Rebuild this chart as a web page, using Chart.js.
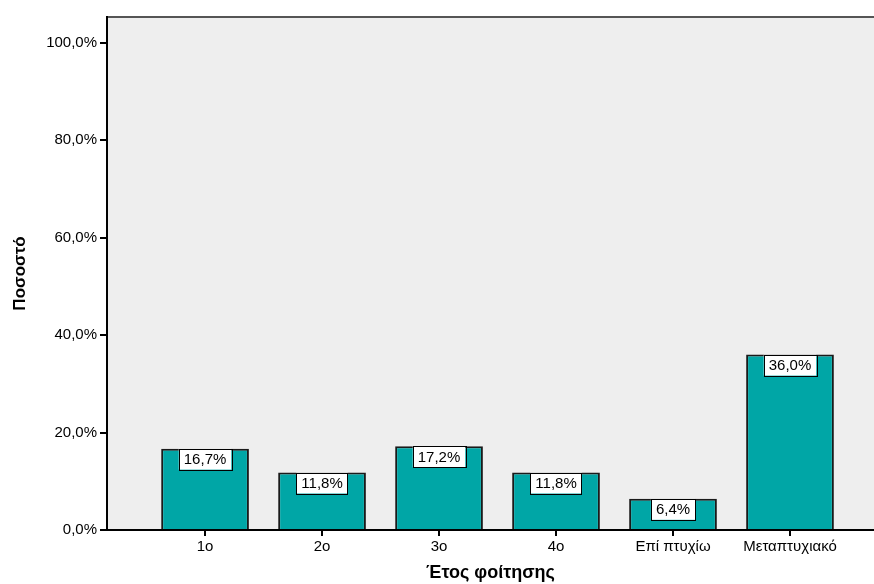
<!DOCTYPE html>
<html lang="el">
<head>
    <meta charset="UTF-8">
    <title>Έτος φοίτησης</title>
    <script src="https://cdn.jsdelivr.net/npm/chart.js"></script>
    <style>
        html, body {
            margin: 0;
            background: #fff;
        }
        canvas {
            display: block;
        }
    </style>
</head>
<body>
    <canvas id="yearChart" width="874" height="584"></canvas>

    <script>
        const categories = ['1o', '2o', '3o', '4o', 'Επί πτυχίω', 'Μεταπτυχιακό'];
        const percentages = [16.7, 11.8, 17.2, 11.8, 6.4, 36.0];
        const yTicks = [0, 20, 40, 60, 80, 100];

        const fontFamily = '"Liberation Sans", Arial, sans-serif';
        const pct = v => v.toFixed(1).replace('.', ',') + '%';

        // plot background + top frame line
        const plotFrame = {
            id: 'plotFrame',
            beforeDraw(chart) {
                const { ctx, chartArea } = chart;
                ctx.save();
                ctx.fillStyle = '#eeeeee';
                ctx.fillRect(chartArea.left, chartArea.top, chart.width - chartArea.left, chartArea.bottom - chartArea.top);
                ctx.strokeStyle = '#555555';
                ctx.lineWidth = 2;
                ctx.beginPath();
                ctx.moveTo(chartArea.left, chartArea.top);
                ctx.lineTo(chart.width, chartArea.top);
                ctx.stroke();
                ctx.restore();
            }
        };

        // white boxed value labels at the top of each bar
        const valueBoxes = {
            id: 'valueBoxes',
            afterDatasetsDraw(chart) {
                const { ctx } = chart;
                const meta = chart.getDatasetMeta(0);
                ctx.save();
                ctx.font = '15px ' + fontFamily;
                ctx.textAlign = 'center';
                ctx.textBaseline = 'middle';
                meta.data.forEach((bar, i) => {
                    const text = pct(percentages[i]);
                    const w = ctx.measureText(text).width + 10;
                    const h = 21;
                    const x = bar.x - w / 2;
                    const y = bar.y;
                    ctx.fillStyle = '#ffffff';
                    ctx.fillRect(x, y, w, h);
                    ctx.strokeStyle = '#000000';
                    ctx.lineWidth = 1;
                    ctx.strokeRect(Math.round(x) + 0.5, Math.round(y) + 0.5, Math.round(w), h);
                    ctx.fillStyle = '#000000';
                    ctx.fillText(text, bar.x, y + h / 2 + 1);
                });
                ctx.restore();
            }
        };

        const ctx = document.getElementById('yearChart').getContext('2d');
        new Chart(ctx, {
            type: 'bar',
            data: {
                datasets: [{
                    data: percentages.map((v, i) => ({ x: i, y: v })),
                    backgroundColor: '#00a6a6',
                    borderColor: '#1a1a1a',
                    borderWidth: 2,
                    categoryPercentage: 1,
                    barPercentage: 0.75
                }]
            },
            options: {
                responsive: false,
                animation: false,
                layout: { padding: { top: 17, right: 0, left: 0, bottom: 0 } },
                plugins: {
                    legend: { display: false },
                    tooltip: { enabled: false }
                },
                scales: {
                    x: {
                        type: 'linear',
                        offset: false,
                        min: -0.838,
                        max: 5.718,
                        afterBuildTicks: scale => {
                            scale.ticks = categories.map((c, i) => ({ value: i }));
                        },
                        afterFit: scale => { scale.height = 54; },
                        ticks: {
                            callback: v => categories[v],
                            color: '#000',
                            font: { family: fontFamily, size: 15 },
                            padding: 2,
                            maxRotation: 0,
                            autoSkip: false
                        },
                        grid: {
                            offset: false,
                            drawOnChartArea: false,
                            drawTicks: true,
                            tickLength: 6,
                            color: '#000',
                            lineWidth: 2
                        },
                        border: { color: '#000', width: 2 },
                        title: {
                            display: true,
                            text: 'Έτος φοίτησης',
                            color: '#000',
                            font: { family: fontFamily, size: 18, weight: 'bold' },
                            padding: { top: 5, bottom: 0 }
                        }
                    },
                    y: {
                        min: 0,
                        max: 105.3,
                        afterBuildTicks: scale => {
                            scale.ticks = yTicks.map(v => ({ value: v }));
                        },
                        afterFit: scale => { scale.width = 107; },
                        ticks: {
                            callback: v => pct(v),
                            color: '#000',
                            font: { family: fontFamily, size: 15 },
                            padding: 3
                        },
                        grid: {
                            drawOnChartArea: false,
                            drawTicks: true,
                            tickLength: 7,
                            color: '#000',
                            lineWidth: 2
                        },
                        border: { color: '#000', width: 2 },
                        title: {
                            display: true,
                            text: 'Ποσοστό',
                            color: '#000',
                            font: { family: fontFamily, size: 17, weight: 'bold' },
                            padding: { top: 10, bottom: 0 }
                        }
                    }
                }
            },
            plugins: [plotFrame, valueBoxes]
        });
    </script>
</body>
</html>
